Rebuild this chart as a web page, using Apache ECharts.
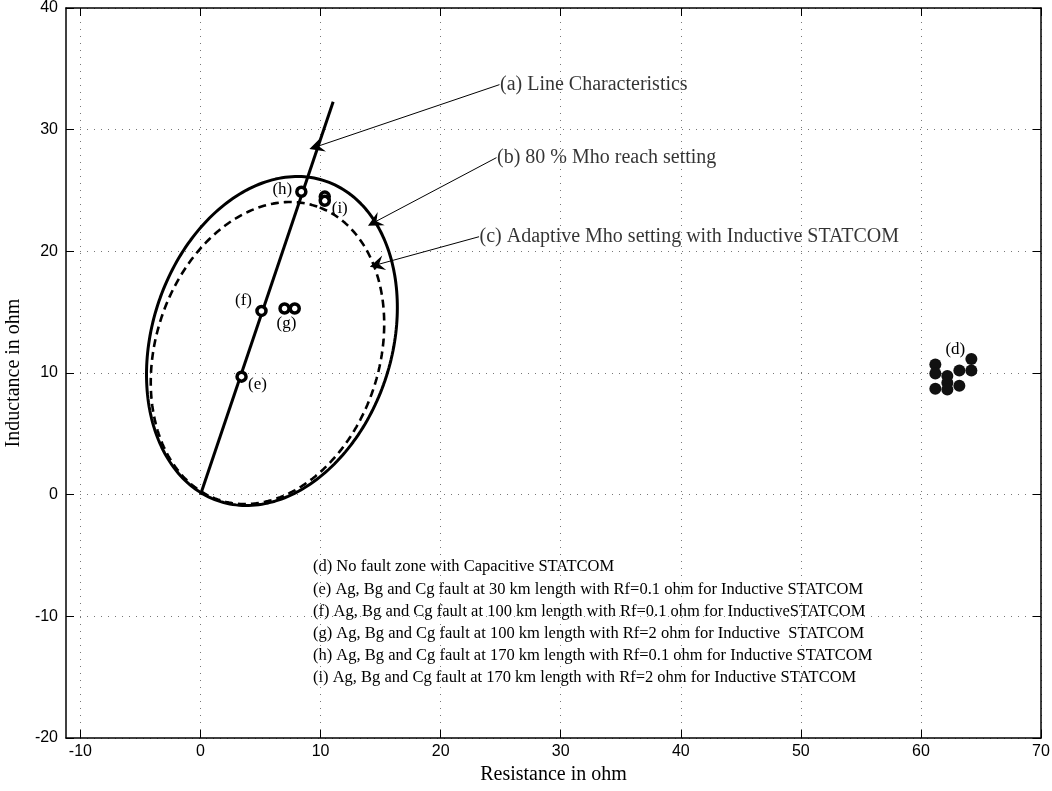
<!DOCTYPE html>
<html><head><meta charset="utf-8">
<script src="https://cdn.jsdelivr.net/npm/echarts@6/dist/echarts.min.js"></script>
<style>html,body{margin:0;padding:0;background:#fff}#c{width:1052px;height:791px}</style>
</head><body><div id="c"></div>
<script>
// ---- tick labels ----
const xTicks = [-10, 0, 10, 20, 30, 40, 50, 60, 70];
const yTicks = [-20, -10, 0, 10, 20, 30, 40];
// ---- (a) line characteristic, end points ----
const lineChar = [[0, 0], [11.05, 32.3]];
// ---- mho ellipses: [centerR, centerX, semiMajor, semiMinor, tiltDeg] ----
const mhoReach = [5.95, 12.63, 13.88, 9.96, 71];
const adaptiveMho = [5.58, 11.64, 12.73, 9.3, 71];
// ---- fault points ----
const zoneD = [[61.2,10.7],[61.2,9.95],[61.2,8.7],[62.2,9.75],[62.2,9.2],[62.2,8.65],[63.2,10.2],[63.2,8.95],[64.2,10.2],[64.2,11.15]];
const faultE = [[3.42, 9.7]];
const faultF = [[5.08, 15.1]];
const faultG = [[7.0, 15.3], [7.85, 15.3]];
const faultH = [[8.4, 24.9]];
const faultI = [[10.35, 24.5], [10.35, 24.15]];
// ---- annotation texts and arrows [textAnchor, arrowTip] ----
const annoTexts = ["(a) Line Characteristics", "(b) 80 % Mho reach setting", "(c) Adaptive Mho setting with Inductive STATCOM"];
const annoArrows = [[[24.9, 33.7], [9.66, 28.6]], [[24.65, 27.7], [14.5, 22.4]], [[23.2, 21.2], [14.7, 18.9]]];
const notes = [
  "(d) No fault zone with Capacitive STATCOM",
  "(e) Ag, Bg and Cg fault at 30 km length with Rf=0.1 ohm for Inductive STATCOM",
  "(f) Ag, Bg and Cg fault at 100 km length with Rf=0.1 ohm for InductiveSTATCOM",
  "(g) Ag, Bg and Cg fault at 100 km length with Rf=2 ohm for Inductive  STATCOM",
  "(h) Ag, Bg and Cg fault at 170 km length with Rf=0.1 ohm for Inductive STATCOM",
  "(i) Ag, Bg and Cg fault at 170 km length with Rf=2 ohm for Inductive STATCOM"
];

function ellipse(p) {
  const [cx, cy, a, b, deg] = p, t = deg * Math.PI / 180, out = [];
  for (let i = 0; i <= 240; i++) {
    const s = i / 240 * 2 * Math.PI;
    const u = a * Math.cos(s), v = b * Math.sin(s);
    out.push([cx + u * Math.cos(t) - v * Math.sin(t), cy + u * Math.sin(t) + v * Math.cos(t)]);
  }
  return out;
}

const SERIF = "'Liberation Serif','Times New Roman',serif";
const SANS = "'Liberation Sans',Arial,sans-serif";
const tickStyle = { show: true, inside: true, length: 8, lineStyle: { color: '#000', width: 1 } };
const axisLine = { show: true, onZero: false, lineStyle: { color: '#000', width: 1.5 } };
const gridLine = { show: true, lineStyle: { color: '#777', width: 1, type: [1, 6] } };

function ring(data, lab, off) {
  return {
    type: 'scatter', data: data, symbol: 'circle', symbolSize: 9, z: 6,
    itemStyle: { color: '#fff', borderColor: '#000', borderWidth: 3.5, opacity: 1 },
    label: { show: true, formatter: (p) => p.dataIndex === 0 ? lab : '', position: 'inside', offset: off,
      fontFamily: SERIF, fontSize: 17, color: '#000' },
    silent: true
  };
}

const chart = echarts.init(document.getElementById('c'), null, { renderer: 'canvas' });
chart.setOption({
  animation: false,
  backgroundColor: '#fff',
  grid: { left: 66, right: 11, top: 8, bottom: 53, containLabel: false, outerBoundsMode: 'none' },
  xAxis: [
    { type: 'value', min: -11.2, max: 70, position: 'bottom',
      name: 'Resistance in ohm', nameLocation: 'middle', nameGap: 26,
      nameTextStyle: { fontFamily: SERIF, fontSize: 20, color: '#000' },
      axisLine: axisLine, axisTick: Object.assign({ customValues: xTicks }, tickStyle),
      axisLabel: { customValues: xTicks, fontFamily: SANS, fontSize: 16, color: '#000', margin: 6 },
      splitLine: gridLine },
    { type: 'value', min: -11.2, max: 70, position: 'top',
      axisLine: axisLine, axisTick: Object.assign({ customValues: xTicks }, tickStyle),
      axisLabel: { show: false }, splitLine: { show: false } }
  ],
  yAxis: [
    { type: 'value', min: -20, max: 40, interval: 10, position: 'left',
      name: 'Inductance in ohm', nameLocation: 'middle', nameGap: 38, nameRotate: 90,
      nameTextStyle: { fontFamily: SERIF, fontSize: 20, color: '#000' },
      axisLine: axisLine, axisTick: tickStyle,
      axisLabel: { fontFamily: SANS, fontSize: 16, color: '#000', margin: 8 },
      splitLine: gridLine },
    { type: 'value', min: -20, max: 40, interval: 10, position: 'right',
      axisLine: axisLine, axisTick: tickStyle, axisLabel: { show: false }, splitLine: { show: false } }
  ],
  series: [
    { type: 'line', data: lineChar, showSymbol: false, lineStyle: { color: '#000', width: 3 }, z: 3, silent: true },
    { type: 'line', data: ellipse(mhoReach), showSymbol: false, smooth: false, lineStyle: { color: '#000', width: 3 }, z: 3, silent: true },
    { type: 'line', data: ellipse(adaptiveMho), showSymbol: false, smooth: false, lineStyle: { color: '#000', width: 2.6, type: [8, 5] }, z: 3, silent: true },
    { type: 'scatter', data: zoneD, symbol: 'circle', symbolSize: 12, itemStyle: { color: '#111', opacity: 1 }, z: 6, silent: true,
      label: { show: true, formatter: (p) => p.dataIndex === 9 ? '(d)' : '', position: 'inside', offset: [-16, -9], fontFamily: SERIF, fontSize: 17, color: '#000' } },
    ring(faultE, '(e)', [16, 8]),
    ring(faultF, '(f)', [-18, -10]),
    ring(faultG, '(g)', [2, 15]),
    ring(faultH, '(h)', [-19, -2]),
    ring(faultI, '(i)', [15, 12]),
    { type: 'lines', coordinateSystem: 'cartesian2d', z: 5, silent: true,
      symbol: ['none', 'path://M5,0 L10,14 L5,9 L0,14 Z'], symbolSize: [10, 15],
      lineStyle: { color: '#000', width: 1, opacity: 1, curveness: 0 },
      data: annoArrows.map(a => ({ coords: a })) },
    { type: 'scatter', symbolSize: 1, itemStyle: { color: 'rgba(0,0,0,0)' }, z: 7, silent: true,
      data: annoArrows.map((a, i) => ({ value: a[0], name: annoTexts[i] })),
      label: { show: true, position: 'right', distance: 0, formatter: '{b}', fontFamily: SERIF, fontSize: 20, color: '#000' } }
  ],
  graphic: [
    { type: 'text', left: 313, top: 556, silent: true,
      style: { text: notes.join('\n'), fontFamily: SERIF, fontSize: 16.5, lineHeight: 22.2, fill: '#000' } }
  ]
});
</script>
</body></html>
